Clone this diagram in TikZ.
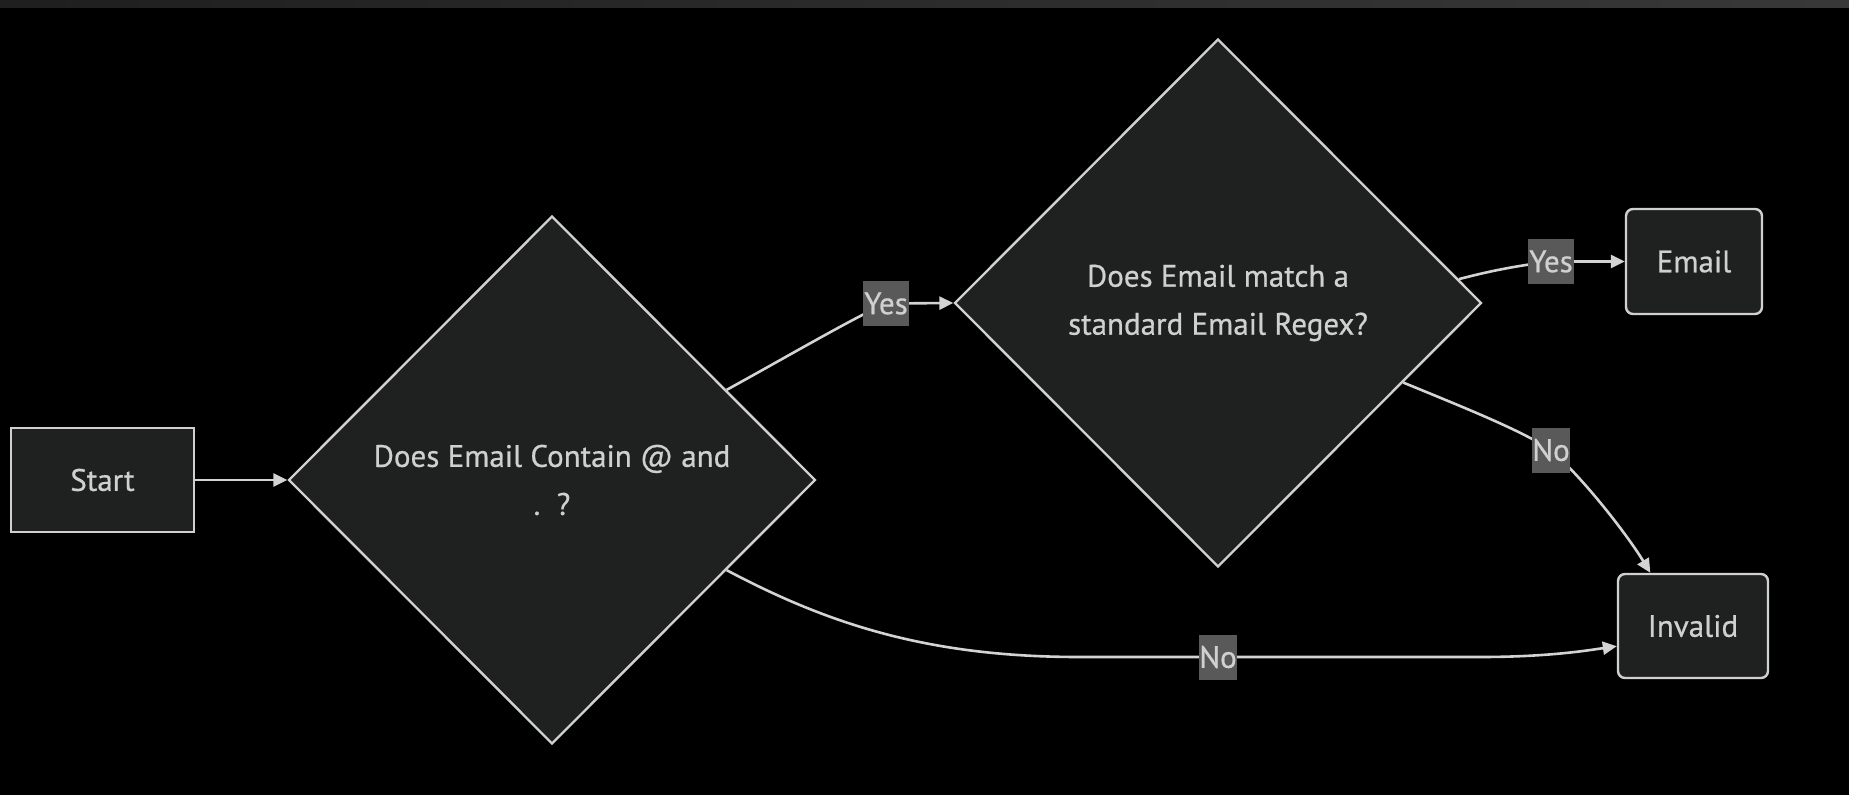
\documentclass[tikz,border=0pt]{standalone}
\usepackage{fontspec}
\setmainfont{PT Sans}[FakeBold=0.6]
\usetikzlibrary{shapes.geometric,arrows.meta,calc}
\definecolor{nodefill}{HTML}{1F2020}
\definecolor{ink}{HTML}{D0D0D0}
\definecolor{wire}{HTML}{D3D3D3}
\definecolor{tagbg}{HTML}{595959}
\pgfdeclarelayer{bg}
\pgfdeclarelayer{edges}
\pgfsetlayers{bg,edges,main}
\tikzset{
  txt/.style={text=ink, font=\fontsize{31}{48}\selectfont, align=center},
  box/.style={txt, draw=ink, fill=nodefill, line width=2.4pt, inner sep=0pt},
  decision/.style={box, diamond, aspect=1, minimum width=527pt, minimum height=528pt},
  tag/.style={txt, fill=tagbg, inner sep=0pt, minimum height=45pt},
  edge/.style={draw=wire, line width=2.6pt, -{Triangle[length=14pt,width=13pt]}},
}
\begin{document}
\begin{tikzpicture}[x=1pt,y=-1pt]
\begin{pgfonlayer}{bg}
  \fill[black] (0,0) rectangle (1849,795);
  \shade[left color=black!88!white, right color=black!78!white] (0,0) rectangle (1849,7);
\end{pgfonlayer}
\useasboundingbox (0,0) rectangle (1849,795);

% nodes
\node[box, minimum width=183pt, minimum height=104pt] (start) at (102.5,480) {Start};
\node[decision] (d1) at (552,480) {Does Email Contain @ and\\ .~~?};
\node[decision] (d2) at (1218,303) {Does Email match a\\ standard Email Regex?};
\node[box, rounded corners=7pt, minimum width=136pt, minimum height=105pt] (email) at (1694,261.5) {Email};
\node[box, rounded corners=7pt, minimum width=150pt, minimum height=104pt] (invalid) at (1693,626) {Invalid};

% edge labels
\node[tag, minimum width=46pt] (yes1) at (886,303.5) {Yes};
\node[tag, minimum width=46pt] (yes2) at (1551,261.5) {Yes};
\node[tag, minimum width=38pt] (no1) at (1551,450) {No};
\node[tag, minimum width=37pt] (no2) at (1218,657) {No};

% attachment points on the node outlines
\coordinate (p1) at ($(d1.north)!0.66!(d1.east)$);
\coordinate (p2) at ($(d1.east)!0.34!(d1.south)$);
\coordinate (q1) at ($(d2.north)!0.91!(d2.east)$);
\coordinate (q2) at ($(d2.east)!0.30!(d2.south)$);
\coordinate (t1) at ($(invalid.north west)!0.22!(invalid.north east)$);
\coordinate (t2) at ($(invalid.south west)+(0,-33)$);

% connectors
\begin{pgfonlayer}{edges}
  \draw[edge] (start.east) -- (d1.west);
  \draw[edge] (p1) .. controls (790,355) and (855,317) .. (yes1.center) -- (d2.west);
  \draw[edge] (q1) .. controls (1490,271) and (1515,266) .. (yes2.center) -- (email.west);
  \draw[edge] (q2) .. controls (1470,410) and (1520,430) .. (no1.center)
                   .. controls (1585,480) and (1628,536) .. (t1);
  \draw[edge] (p2) .. controls (830,625) and (930,657) .. (1080,657) -- (no2.center)
                   -- (1480,657) .. controls (1550,657) and (1590,650) .. (t2);
\end{pgfonlayer}
\end{tikzpicture}
\end{document}
